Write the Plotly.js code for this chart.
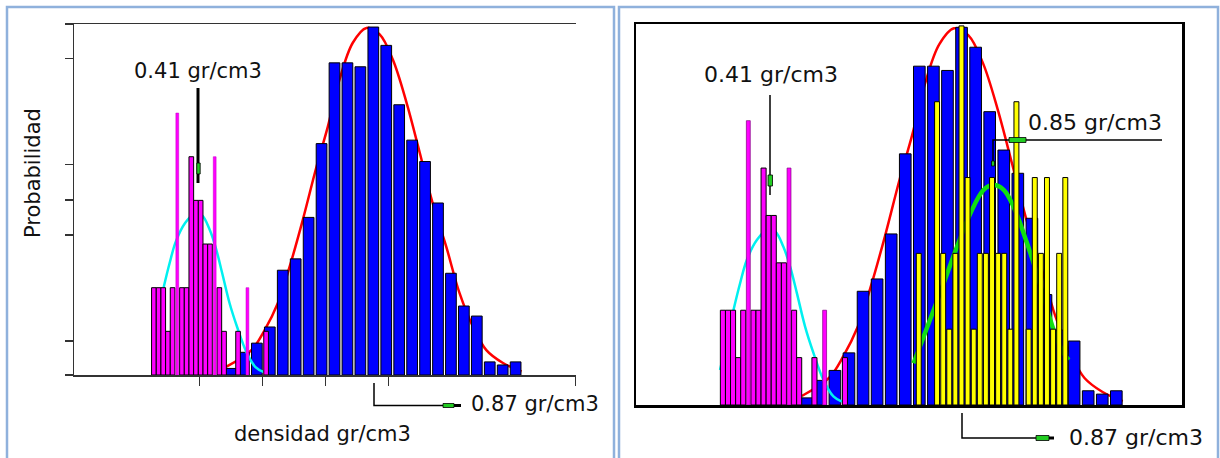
<!DOCTYPE html>
<html>
<head>
<meta charset="utf-8">
<script src="https://cdn.plot.ly/plotly-3.0.1.min.js"></script>
<style>html,body{margin:0;padding:0;background:#fff;}#chart{width:1220px;height:458px;}</style>
</head>
<body>
<div id="chart"></div>
<script>
// ---------------- DATA ----------------
// Blue histogram: all densities (gr/cm3), bin centres and relative probability
const blueX = [0.493, 0.5272, 0.5614, 0.5956, 0.6298, 0.664, 0.6982, 0.7324, 0.7666, 0.8008, 0.835, 0.8692,
               0.9034, 0.9376, 0.9718, 1.006, 1.0402, 1.0744, 1.1086, 1.1428, 1.177, 1.2112, 1.2454];
const blueY = [0.15, 0.52, 0.73, 1.10, 2.40, 2.66, 3.61, 5.30, 7.15, 7.15, 7.06, 7.97,
               7.55, 6.19, 5.38, 4.89, 3.94, 2.33, 1.58, 1.35, 0.30, 0.23, 0.30];
// Magenta histogram (low density group)
const magentaX = [0.2892, 0.3016, 0.3139, 0.3263, 0.3386, 0.3634, 0.3757, 0.3881, 0.4004, 0.4128,
                  0.4252, 0.4375, 0.4622, 0.4746, 0.5117, 0.5858];
const magentaY = [2, 2, 2, 1, 2, 2, 2, 5, 4, 4, 3, 3, 2, 1, 1, 1];
const magentaSpikeX = [0.3510, 0.4499, 0.5364];
const magentaSpikeY = [6, 5, 2];
// Yellow histogram (second group, right panel)
const yellowX = [0.7652, 0.8097, 0.8246, 0.8394, 0.8542, 0.8691, 0.8839, 0.8988, 0.9136, 0.9284, 0.9433,
                 0.9581, 0.9730, 0.9878, 1.0026, 1.0323, 1.0472, 1.0620, 1.0768, 1.0917, 1.1065, 1.1214];
const yellowY = [3.2, 6.4, 3.2, 1.6, 3.2, 8.0, 4.8, 1.6, 3.2, 3.2, 4.8,
                 3.2, 3.2, 1.6, 6.4, 1.6, 4.8, 3.2, 4.8, 1.6, 3.2, 4.8];
// Fitted curves
const redX = [0.481, 0.547, 0.582, 0.617, 0.648, 0.683, 0.719, 0.749, 0.780, 0.815, 0.851,
              0.886, 0.921, 0.957, 0.992, 1.026, 1.062, 1.097, 1.133, 1.168, 1.211, 1.261];
const redY = [0.19, 0.57, 1.03, 1.65, 2.48, 3.56, 4.77, 5.69, 6.77, 7.61, 7.95,
              7.80, 7.22, 6.24, 5.09, 3.94, 2.94, 1.88, 1.10, 0.57, 0.28, 0.08];
const cyanX = [0.2823, 0.2987, 0.3148, 0.3310, 0.3473, 0.3717, 0.3960, 0.4161, 0.4362, 0.4526,
               0.4690, 0.4891, 0.5092, 0.5335, 0.5578, 0.5784];
const cyanY = [0.74, 1.37, 2.00, 2.57, 3.06, 3.48, 3.69, 3.66, 3.34, 2.92,
               2.36, 1.65, 1.10, 0.53, 0.18, 0.07];
const greenX = [0.7527, 0.7770, 0.8013, 0.8257, 0.8582, 0.8905, 0.9229, 0.9472, 0.9716, 0.9959,
                1.0202, 1.0446, 1.0689, 1.0932, 1.1175, 1.1297];
const greenY = [0.88, 1.44, 2.00, 2.57, 3.34, 4.04, 4.54, 4.64, 4.54, 4.18,
                3.62, 2.99, 2.28, 1.58, 1.09, 0.95];
const leftTickX = [0.41, 0.5766, 0.7432, 0.9098, 1.404];
const leftTickY = [0, 0.78, 3.21, 4.01, 4.82, 7.25, 8.035];
const labelLow = '0.41 gr/cm3', labelMid = '0.85 gr/cm3', labelHigh = '0.87 gr/cm3';
const xTitle = 'densidad gr/cm3', yTitle = 'Probabilidad';

// ---------------- STYLE / LAYOUT ----------------
const W = 1220, H = 458;
const X = px => px / W, Y = py => 1 - py / H;
const xRange = [0.078, 1.405], yRange = [0, 8.04];
const FONT = 'DejaVu Sans, Arial, sans-serif';

function bars(x, y, color, width, ax, lineColor, lineWidth) {
  return {type: 'bar', x: x, y: y, width: width, xaxis: 'x' + ax, yaxis: 'y' + ax,
    marker: {color: color, line: {color: lineColor || '#000', width: lineWidth === undefined ? 1 : lineWidth}},
    hoverinfo: 'skip', showlegend: false};
}
function curve(x, y, color, width, ax) {
  return {type: 'scatter', mode: 'lines', x: x, y: y, xaxis: 'x' + ax, yaxis: 'y' + ax,
    line: {color: color, width: width, shape: 'spline', smoothing: 1}, hoverinfo: 'skip', showlegend: false};
}

const traces = [
  // left panel
  curve(redX, redY, '#ff0000', 2.5, ''),
  bars(blueX, blueY, '#0000ff', 0.0283, '2'),
  curve(cyanX.slice(2), cyanY.slice(2), '#00f0f0', 2.5, '2'),
  bars(magentaX, magentaY, '#ff00ff', 0.0123, '3'),
  bars(magentaSpikeX, magentaSpikeY, '#ff00ff', 0.0075, '3', '#c000c0', 0.5),
  // right panel
  curve(redX, redY, '#ff0000', 2.5, '4'),
  bars(blueX, blueY, '#0000ff', 0.0283, '5'),
  curve(cyanX, cyanY, '#00f0f0', 2.5, '5'),
  bars(magentaX, magentaY, '#ff00ff', 0.0123, '6'),
  bars(magentaSpikeX, magentaSpikeY, '#ff00ff', 0.0095, '6', '#800080', 0.7),
  curve(greenX, greenY, '#10e010', 4.5, '6'),
  bars(yellowX, yellowY, '#ffff00', 0.012, '7')
];

const hidden = {visible: false, showgrid: false, zeroline: false, fixedrange: true};
const layout = {
  width: W, height: H, margin: {l: 0, r: 0, t: 0, b: 0},
  paper_bgcolor: '#fff', plot_bgcolor: 'rgba(0,0,0,0)',
  barmode: 'overlay', showlegend: false,
  xaxis: {domain: [X(74), X(576)], anchor: 'y', range: xRange, showline: true, linecolor: '#333', linewidth: 1.5,
    mirror: true, ticks: 'outside', tickvals: leftTickX, ticklen: 9, tickwidth: 1.5, tickcolor: '#333',
    showticklabels: false, showgrid: false, zeroline: false},
  yaxis: {domain: [Y(375), Y(24)], anchor: 'x', range: yRange, showline: true, linecolor: '#333', linewidth: 1.5,
    ticks: 'outside', tickvals: leftTickY, ticklen: 8, tickwidth: 1.5, tickcolor: '#333',
    showticklabels: false, showgrid: false, zeroline: false},
  xaxis4: {domain: [X(636), X(1182)], anchor: 'y4', range: xRange, showline: true, linecolor: '#000', linewidth: 2.5,
    mirror: true, ticks: '', showticklabels: false, showgrid: false, zeroline: false},
  yaxis4: {domain: [Y(405), Y(24)], anchor: 'x4', range: yRange, showline: true, linecolor: '#000', linewidth: 2.5,
    mirror: true, ticks: '', showticklabels: false, showgrid: false, zeroline: false}
};
[2, 3].forEach(n => {
  layout['xaxis' + n] = Object.assign({overlaying: 'x', anchor: 'y' + n, range: xRange}, hidden);
  layout['yaxis' + n] = Object.assign({overlaying: 'y', anchor: 'x' + n, range: yRange}, hidden);
});
[5, 6, 7].forEach(n => {
  layout['xaxis' + n] = Object.assign({overlaying: 'x4', anchor: 'y' + n, range: xRange}, hidden);
  layout['yaxis' + n] = Object.assign({overlaying: 'y4', anchor: 'x' + n, range: yRange}, hidden);
});

function txt(text, px, py, size, anchor, angle) {
  return {xref: 'paper', yref: 'paper', x: X(px), y: Y(py), text: text, showarrow: false,
    xanchor: anchor || 'center', yanchor: 'middle', textangle: angle || 0,
    font: {family: FONT, size: size, color: '#111'}};
}
layout.annotations = [
  txt(labelLow, 197.5, 71, 21),
  txt(labelHigh, 469, 404, 21, 'left'),
  txt(xTitle, 322, 434, 21),
  txt(yTitle, 33, 173, 21, 'center', -90),
  txt(labelLow, 771, 74, 22),
  txt(labelMid, 1026, 122, 22, 'left'),
  txt(labelHigh, 1067, 437, 22, 'left')
];

function seg(pts, color, width) {
  return {type: 'path', xref: 'paper', yref: 'paper', layer: 'above',
    path: pts.map((p, i) => (i ? 'L' : 'M') + X(p[0]) + ',' + Y(p[1])).join(' '),
    line: {color: color, width: width}};
}
function box(x0, y0, x1, y1, fill, lc, lw) {
  return {type: 'rect', xref: 'paper', yref: 'paper', layer: 'above', x0: X(x0), x1: X(x1), y0: Y(y0), y1: Y(y1),
    fillcolor: fill, line: {color: lc, width: lw}};
}
layout.shapes = [
  // panel frames
  box(7, 7, 614, 470, 'rgba(0,0,0,0)', '#8fb1dc', 2.5),
  box(619, 7, 1218, 470, 'rgba(0,0,0,0)', '#8fb1dc', 2.5),
  // left: 0.41 marker
  seg([[198, 88], [198, 183]], '#000', 3),
  box(196.8, 163, 200.2, 174, '#22cc22', '#000', 0.8),
  // left: 0.87 marker
  seg([[374, 383], [374, 405.5], [456, 405.5]], '#000', 1.5),
  box(443, 403.5, 454, 407.5, '#22cc22', '#000', 0.8),
  seg([[454, 405.5], [461, 405.5]], '#000', 3),
  // right: 0.41 marker
  seg([[770, 95], [770, 195]], '#000', 1.5),
  box(768, 175, 772.5, 186, '#22cc22', '#000', 0.8),
  // right: 0.85 marker
  seg([[1162, 140], [993, 140], [993, 165]], '#000', 1.5),
  box(1009, 137.5, 1026, 142.5, '#22cc22', '#000', 0.8),
  box(991.5, 161, 994.5, 166, '#22cc22', '#000', 0.8),
  // right: 0.87 marker
  seg([[962, 413], [962, 438], [1048, 438]], '#000', 1.5),
  box(1036, 435.5, 1049, 440.5, '#22cc22', '#000', 0.8),
  seg([[1049, 438], [1054, 438]], '#000', 3)
];

Plotly.newPlot('chart', traces, layout, {staticPlot: true, displayModeBar: false});
</script>
</body>
</html>
